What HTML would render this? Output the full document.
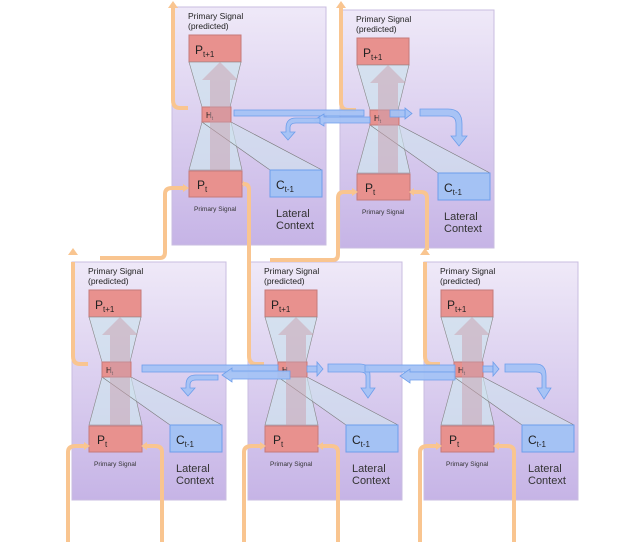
<!DOCTYPE html>
<html><head><meta charset="utf-8"><style>
html,body{margin:0;padding:0;background:#fff;}
svg{display:block;font-family:"Liberation Sans",sans-serif;}
</style></head><body>
<svg width="640" height="542" viewBox="0 0 640 542" xmlns="http://www.w3.org/2000/svg">
<defs>
<linearGradient id="pg" x1="0" y1="0" x2="0" y2="1">
<stop offset="0" stop-color="#efe9f8"/><stop offset="1" stop-color="#c6b4e6"/>
</linearGradient>
</defs>

<g transform="translate(172,7)">
<rect x="0" y="0" width="154" height="238" fill="url(#pg)" stroke="#c9bde0"/>
<text x="16" y="12" font-size="8.5" fill="#222">Primary Signal</text>
<text x="16" y="22" font-size="8.5" fill="#222">(predicted)</text>
<rect x="17" y="28" width="52" height="27" fill="#e8918e" stroke="#c57a7a"/>
<text x="23" y="47" font-size="12" fill="#222">P<tspan font-size="8" dy="3">t+1</tspan></text>
<polygon points="17,55 69,55 58,100 30,100" fill="#cfe2ee" fill-opacity="0.75" stroke="#888" stroke-width="0.6"/>
<polygon points="30,115 59,115 70,163 17,163" fill="#cfe2ee" fill-opacity="0.75" stroke="#888" stroke-width="0.6"/>
<polygon points="30,115 59,115 150,163 98,163" fill="#cfe2ee" fill-opacity="0.6" stroke="#777" stroke-width="0.6"/>
<rect x="30" y="100" width="29" height="15" fill="#e8918e" stroke="#c57a7a"/>
<text x="34" y="111" font-size="8" fill="#222">H<tspan font-size="5" dy="2">t</tspan></text>
<polygon points="38,190 38,73 30,73 48,55 66,73 58,73 58,190" fill="#c9a0ae" fill-opacity="0.5"/>
<rect x="98" y="163" width="52" height="27" fill="#a4c2f4" stroke="#6d9eeb"/>
<text x="104" y="182" font-size="12" fill="#222">C<tspan font-size="8" dy="3">t-1</tspan></text>
<rect x="17" y="164" width="53" height="26" fill="#e8918e" stroke="#c57a7a"/>
<text x="25" y="182" font-size="12" fill="#222">P<tspan font-size="8" dy="3">t</tspan></text>
<text x="22" y="204" font-size="6.5" fill="#333">Primary Signal</text>
<text x="104" y="210" font-size="11" fill="#333">Lateral</text>
<text x="104" y="222" font-size="11" fill="#333">Context</text>
</g>
<g transform="translate(340,10)">
<rect x="0" y="0" width="154" height="238" fill="url(#pg)" stroke="#c9bde0"/>
<text x="16" y="12" font-size="8.5" fill="#222">Primary Signal</text>
<text x="16" y="22" font-size="8.5" fill="#222">(predicted)</text>
<rect x="17" y="28" width="52" height="27" fill="#e8918e" stroke="#c57a7a"/>
<text x="23" y="47" font-size="12" fill="#222">P<tspan font-size="8" dy="3">t+1</tspan></text>
<polygon points="17,55 69,55 58,100 30,100" fill="#cfe2ee" fill-opacity="0.75" stroke="#888" stroke-width="0.6"/>
<polygon points="30,115 59,115 70,163 17,163" fill="#cfe2ee" fill-opacity="0.75" stroke="#888" stroke-width="0.6"/>
<polygon points="30,115 59,115 150,163 98,163" fill="#cfe2ee" fill-opacity="0.6" stroke="#777" stroke-width="0.6"/>
<rect x="30" y="100" width="29" height="15" fill="#e8918e" stroke="#c57a7a"/>
<text x="34" y="111" font-size="8" fill="#222">H<tspan font-size="5" dy="2">t</tspan></text>
<polygon points="38,190 38,73 30,73 48,55 66,73 58,73 58,190" fill="#c9a0ae" fill-opacity="0.5"/>
<rect x="98" y="163" width="52" height="27" fill="#a4c2f4" stroke="#6d9eeb"/>
<text x="104" y="182" font-size="12" fill="#222">C<tspan font-size="8" dy="3">t-1</tspan></text>
<rect x="17" y="164" width="53" height="26" fill="#e8918e" stroke="#c57a7a"/>
<text x="25" y="182" font-size="12" fill="#222">P<tspan font-size="8" dy="3">t</tspan></text>
<text x="22" y="204" font-size="6.5" fill="#333">Primary Signal</text>
<text x="104" y="210" font-size="11" fill="#333">Lateral</text>
<text x="104" y="222" font-size="11" fill="#333">Context</text>
</g>
<g transform="translate(72,262)">
<rect x="0" y="0" width="154" height="238" fill="url(#pg)" stroke="#c9bde0"/>
<text x="16" y="12" font-size="8.5" fill="#222">Primary Signal</text>
<text x="16" y="22" font-size="8.5" fill="#222">(predicted)</text>
<rect x="17" y="28" width="52" height="27" fill="#e8918e" stroke="#c57a7a"/>
<text x="23" y="47" font-size="12" fill="#222">P<tspan font-size="8" dy="3">t+1</tspan></text>
<polygon points="17,55 69,55 58,100 30,100" fill="#cfe2ee" fill-opacity="0.75" stroke="#888" stroke-width="0.6"/>
<polygon points="30,115 59,115 70,163 17,163" fill="#cfe2ee" fill-opacity="0.75" stroke="#888" stroke-width="0.6"/>
<polygon points="30,115 59,115 150,163 98,163" fill="#cfe2ee" fill-opacity="0.6" stroke="#777" stroke-width="0.6"/>
<rect x="30" y="100" width="29" height="15" fill="#e8918e" stroke="#c57a7a"/>
<text x="34" y="111" font-size="8" fill="#222">H<tspan font-size="5" dy="2">t</tspan></text>
<polygon points="38,190 38,73 30,73 48,55 66,73 58,73 58,190" fill="#c9a0ae" fill-opacity="0.5"/>
<rect x="98" y="163" width="52" height="27" fill="#a4c2f4" stroke="#6d9eeb"/>
<text x="104" y="182" font-size="12" fill="#222">C<tspan font-size="8" dy="3">t-1</tspan></text>
<rect x="17" y="164" width="53" height="26" fill="#e8918e" stroke="#c57a7a"/>
<text x="25" y="182" font-size="12" fill="#222">P<tspan font-size="8" dy="3">t</tspan></text>
<text x="22" y="204" font-size="6.5" fill="#333">Primary Signal</text>
<text x="104" y="210" font-size="11" fill="#333">Lateral</text>
<text x="104" y="222" font-size="11" fill="#333">Context</text>
</g>
<g transform="translate(248,262)">
<rect x="0" y="0" width="154" height="238" fill="url(#pg)" stroke="#c9bde0"/>
<text x="16" y="12" font-size="8.5" fill="#222">Primary Signal</text>
<text x="16" y="22" font-size="8.5" fill="#222">(predicted)</text>
<rect x="17" y="28" width="52" height="27" fill="#e8918e" stroke="#c57a7a"/>
<text x="23" y="47" font-size="12" fill="#222">P<tspan font-size="8" dy="3">t+1</tspan></text>
<polygon points="17,55 69,55 58,100 30,100" fill="#cfe2ee" fill-opacity="0.75" stroke="#888" stroke-width="0.6"/>
<polygon points="30,115 59,115 70,163 17,163" fill="#cfe2ee" fill-opacity="0.75" stroke="#888" stroke-width="0.6"/>
<polygon points="30,115 59,115 150,163 98,163" fill="#cfe2ee" fill-opacity="0.6" stroke="#777" stroke-width="0.6"/>
<rect x="30" y="100" width="29" height="15" fill="#e8918e" stroke="#c57a7a"/>
<text x="34" y="111" font-size="8" fill="#222">H<tspan font-size="5" dy="2">t</tspan></text>
<polygon points="38,190 38,73 30,73 48,55 66,73 58,73 58,190" fill="#c9a0ae" fill-opacity="0.5"/>
<rect x="98" y="163" width="52" height="27" fill="#a4c2f4" stroke="#6d9eeb"/>
<text x="104" y="182" font-size="12" fill="#222">C<tspan font-size="8" dy="3">t-1</tspan></text>
<rect x="17" y="164" width="53" height="26" fill="#e8918e" stroke="#c57a7a"/>
<text x="25" y="182" font-size="12" fill="#222">P<tspan font-size="8" dy="3">t</tspan></text>
<text x="22" y="204" font-size="6.5" fill="#333">Primary Signal</text>
<text x="104" y="210" font-size="11" fill="#333">Lateral</text>
<text x="104" y="222" font-size="11" fill="#333">Context</text>
</g>
<g transform="translate(424,262)">
<rect x="0" y="0" width="154" height="238" fill="url(#pg)" stroke="#c9bde0"/>
<text x="16" y="12" font-size="8.5" fill="#222">Primary Signal</text>
<text x="16" y="22" font-size="8.5" fill="#222">(predicted)</text>
<rect x="17" y="28" width="52" height="27" fill="#e8918e" stroke="#c57a7a"/>
<text x="23" y="47" font-size="12" fill="#222">P<tspan font-size="8" dy="3">t+1</tspan></text>
<polygon points="17,55 69,55 58,100 30,100" fill="#cfe2ee" fill-opacity="0.75" stroke="#888" stroke-width="0.6"/>
<polygon points="30,115 59,115 70,163 17,163" fill="#cfe2ee" fill-opacity="0.75" stroke="#888" stroke-width="0.6"/>
<polygon points="30,115 59,115 150,163 98,163" fill="#cfe2ee" fill-opacity="0.6" stroke="#777" stroke-width="0.6"/>
<rect x="30" y="100" width="29" height="15" fill="#e8918e" stroke="#c57a7a"/>
<text x="34" y="111" font-size="8" fill="#222">H<tspan font-size="5" dy="2">t</tspan></text>
<polygon points="38,190 38,73 30,73 48,55 66,73 58,73 58,190" fill="#c9a0ae" fill-opacity="0.5"/>
<rect x="98" y="163" width="52" height="27" fill="#a4c2f4" stroke="#6d9eeb"/>
<text x="104" y="182" font-size="12" fill="#222">C<tspan font-size="8" dy="3">t-1</tspan></text>
<rect x="17" y="164" width="53" height="26" fill="#e8918e" stroke="#c57a7a"/>
<text x="25" y="182" font-size="12" fill="#222">P<tspan font-size="8" dy="3">t</tspan></text>
<text x="22" y="204" font-size="6.5" fill="#333">Primary Signal</text>
<text x="104" y="210" font-size="11" fill="#333">Lateral</text>
<text x="104" y="222" font-size="11" fill="#333">Context</text>
</g>

<g fill="none" stroke="#f9c590" stroke-width="4" stroke-linecap="butt">
<path d="M88 364 L80 364 Q73 364 73 356 L73 262"/>
<path d="M264 364 L256 364 Q249 364 249 356 L249 190 Q249 184 244 184"/>
<path d="M440 364 L432 364 Q425 364 425 356 L425 262"/>
<path d="M188 108 L180 108 Q173 108 173 100 L173 8"/>
<path d="M356 110 L348 110 Q341 110 341 102 L341 8"/>
<path d="M68 542 L68 452 Q68 446 76 446 L84 446"/>
<path d="M162 542 L162 452 Q162 446 155 446 L147 446"/>
<path d="M244 542 L244 452 Q244 446 252 446 L260 446"/>
<path d="M338 542 L338 452 Q338 446 331 446 L323 446"/>
<path d="M420 542 L420 452 Q420 446 428 446 L436 446"/>
<path d="M514 542 L514 452 Q514 446 507 446 L499 446"/>
<path d="M100 258 L160 258 Q165 258 165 252 L165 194 Q165 188 172 188 L183 188"/>
<path d="M270 260 L333 260 Q338 260 338 254 L338 198 Q338 192 344 192 L352 192"/>
<path d="M427 250 L427 198 Q427 192 421 192 L414 192"/>
</g>
<g fill="#f9c590">
<polygon points="68,255 78,255 73,248"/>
<polygon points="420,255 430,255 425,248"/>
<polygon points="168,8 178,8 173,1"/>
<polygon points="336,8 346,8 341,1"/>
<polygon points="84,442 84,450 90,446"/><polygon points="147,442 147,450 141,446"/>
<polygon points="260,442 260,450 266,446"/><polygon points="323,442 323,450 317,446"/>
<polygon points="436,442 436,450 442,446"/><polygon points="499,442 499,450 493,446"/>
<polygon points="183,184 183,192 189,188"/><polygon points="244,180 244,188 242,184"/>
<polygon points="352,188 352,196 358,192"/><polygon points="414,188 414,196 409,192"/>
</g>

<g fill="#a4c2f4" stroke="#6d9eeb" stroke-width="0.8" fill-opacity="0.95">
<rect x="234" y="110" width="130" height="6"/>
<polygon points="405,108 405,119 412,113.5"/><rect x="390" y="110" width="15" height="7"/>
<polygon points="370,117 324,117 324,114 314,120 324,126 324,123 370,123"/>
<path d="M320 118 L296 118 Q286 118 286 128 L286 132 L281 132 L288 140 L295 132 L290 132 L290 128 Q290 123 296 123 L320 123Z"/>
<path d="M420 109 L448 109 Q462 109 462 124 L462 136 L467 136 L459 146 L451 136 L456 136 L456 124 Q456 116 448 116 L420 116Z"/>
<rect x="142" y="365" width="136" height="7"/>
<polygon points="290,371 232,371 232,368 222,375 232,382 232,379 290,379"/>
<path d="M218 375 L196 375 Q186 375 186 385 L186 388 L181 388 L188 396 L195 388 L190 388 L190 385 Q190 380 196 380 L218 380Z"/>
<rect x="307" y="366" width="10" height="6"/><polygon points="317,362 317,376 323,369"/>
<path d="M328 364 L360 364 Q370 364 370 376 L370 388 L375 388 L368 398 L361 388 L366 388 L366 376 Q366 372 360 372 L328 372Z"/>
<rect x="365" y="365" width="90" height="7"/>
<polygon points="455,372 410,372 410,369 400,376 410,383 410,380 455,380"/>
<rect x="483" y="366" width="10" height="6"/><polygon points="493,362 493,376 499,369"/>
<path d="M505 364 L536 364 Q546 364 546 376 L546 388 L551 388 L544 399 L537 388 L542 388 L542 376 Q542 372 536 372 L505 372Z"/>
</g>
</svg>
</body></html>
